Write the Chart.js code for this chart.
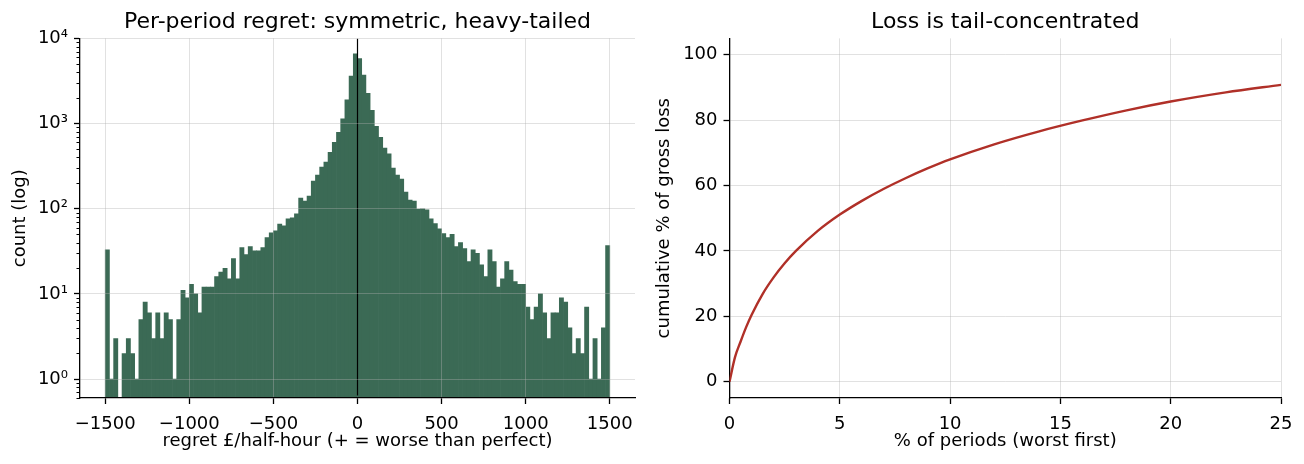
<!DOCTYPE html>
<html>
<head>
  <meta charset="utf-8">
  <title>Per-period regret</title>
  <style>
    body { margin: 0; background: #fff; }
    #wrap { display: flex; width: 1304px; height: 464px; }
    canvas { display: block; }
  </style>
</head>
<body>
<div id="wrap">
  <canvas id="hist" width="650" height="464"></canvas>
  <canvas id="cum" width="654" height="464"></canvas>
</div>
<script src="https://cdn.jsdelivr.net/npm/chart.js@4"></script>
<script>
// left panel: histogram, 120 bins of 25 starting at -1500
const binStart = -1500;
const binWidth = 25;
const counts = [
  33, 1, 3, 0, 2, 3, 2, 1, 5, 8,
  6, 3, 6, 3, 6, 5, 1, 5, 11, 9,
  13, 10, 6, 12, 12, 12, 16, 18, 20, 15,
  26, 15, 35, 29, 36, 32, 32, 35, 46, 52,
  55, 66, 63, 76, 78, 87, 133, 123, 141, 211,
  248, 308, 352, 461, 604, 791, 1140, 1900, 3600, 6600,
  5800, 3700, 2270, 1430, 930, 690, 515, 440, 300, 248,
  223, 157, 126, 123, 99, 100, 97, 76, 67, 58,
  51, 46, 50, 36, 40, 34, 24, 33, 30, 22,
  16, 33, 24, 12, 15, 24, 19, 14, 13, 13,
  7, 5, 7, 10, 6, 3, 6, 6, 9, 8,
  4, 2, 3, 2, 7, 1, 3, 1, 4, 37
];
const histXTicks = [-1500, -1000, -500, 0, 500, 1000, 1500];
const histYTicks = [1, 10, 100, 1000, 10000];

// right panel: cumulative share of gross loss
const pctPeriods = [0, 0.25, 0.5, 0.75, 1, 1.5, 2, 2.5, 3, 4, 5, 6, 7, 8, 9, 10, 12, 14, 16, 18, 20, 22.5, 25];
const cumLoss = [0, 7.5, 12.2, 16.6, 20.4, 26.8, 31.9, 36.2, 39.9, 46.1, 51.1, 55.3, 59.0, 62.3, 65.3, 68.0, 72.6, 76.5, 79.9, 83.0, 85.7, 88.5, 90.8];
const cumXTicks = [0, 5, 10, 15, 20, 25];
const cumYTicks = [0, 20, 40, 60, 80, 100];

Chart.defaults.font.family = "'DejaVu Sans', sans-serif";
Chart.defaults.color = '#000';

const gridColor = 'rgba(176,176,176,0.38)';
const sup = {'0': '\u2070', '1': '\u00b9', '2': '\u00b2', '3': '\u00b3', '4': '\u2074'};
const fmtNum = v => v < 0 ? '\u2212' + Math.abs(v) : String(v);

// short minor ticks on the log axis (2..9 x 10^k)
const minorTicks = {
  id: 'minorTicks',
  afterDraw(chart) {
    const y = chart.scales.y;
    const ctx = chart.ctx;
    const left = chart.chartArea.left;
    ctx.save();
    ctx.strokeStyle = '#000';
    ctx.lineWidth = 1;
    for (let k = -1; k < 4; k++) {
      for (let m = 2; m < 10; m++) {
        const v = m * Math.pow(10, k);
        if (v < y.min || v > y.max) continue;
        const py = Math.round(y.getPixelForValue(v)) + 0.5;
        ctx.beginPath();
        ctx.moveTo(left - 3.5, py);
        ctx.lineTo(left, py);
        ctx.stroke();
      }
    }
    ctx.restore();
  }
};

new Chart(document.getElementById('hist'), {
  type: 'bar',
  data: {
    datasets: [
      {
        type: 'line',
        data: [{x: 0, y: 0.64}, {x: 0, y: 10000}],
        borderColor: '#000',
        borderWidth: 1.2,
        pointRadius: 0,
        order: 0
      },
      {
        type: 'bar',
        data: counts.map((c, i) => ({x: binStart + (i + 0.5) * binWidth, y: c > 0 ? c : null})),
        backgroundColor: '#3b6a55',
        borderWidth: 0,
        barPercentage: 1,
        categoryPercentage: 1,
        grouped: false,
        order: 1
      }
    ]
  },
  options: {
    responsive: false,
    animation: false,
    layout: {padding: {left: 0, right: 15, top: 0, bottom: 0}},
    plugins: {
      legend: {display: false},
      tooltip: {enabled: false},
      title: {
        display: true,
        text: 'Per-period regret: symmetric, heavy-tailed',
        fullSize: false,
        color: '#000',
        font: {size: 22, weight: 'normal'},
        padding: {top: 9, bottom: 3}
      }
    },
    scales: {
      x: {
        type: 'linear',
        min: -1650,
        max: 1650,
        offset: false,
        afterBuildTicks: s => { s.ticks = histXTicks.map(v => ({value: v})); },
        afterFit: s => { s.height = 66; },
        ticks: {callback: v => fmtNum(v), font: {size: 18}, padding: 10, maxRotation: 0, autoSkip: false},
        grid: {
          offset: false,
          color: c => (c.tick && c.tick.value === 0) ? 'rgba(0,0,0,0)' : gridColor,
          tickColor: '#000',
          tickLength: 6,
          tickWidth: 1.3,
          z: 1
        },
        border: {color: '#000', width: 1.3, z: 2},
        title: {display: true, text: 'regret £/half-hour (+ = worse than perfect)', font: {size: 18}, padding: {top: 0, bottom: 12}}
      },
      y: {
        type: 'logarithmic',
        min: 0.64,
        max: 10000,
        beginAtZero: false,
        afterBuildTicks: s => { s.ticks = histYTicks.map(v => ({value: v, major: true})); },
        afterFit: s => { s.width = 80; },
        ticks: {
          callback: v => '10' + sup[String(Math.round(Math.log10(v)))],
          font: {size: 18},
          padding: 6,
          autoSkip: false
        },
        grid: {color: gridColor, tickColor: '#000', tickLength: 6, tickWidth: 1.3, z: 1},
        border: {color: '#000', width: 1.3, z: 2},
        title: {display: true, text: 'count (log)', font: {size: 18}, padding: {top: 10, bottom: 0}}
      }
    }
  },
  plugins: [minorTicks]
});

new Chart(document.getElementById('cum'), {
  type: 'line',
  data: {
    datasets: [{
      data: pctPeriods.map((x, i) => ({x: x, y: cumLoss[i]})),
      borderColor: '#b03028',
      borderWidth: 2.4,
      pointRadius: 0,
      fill: false,
      cubicInterpolationMode: 'monotone'
    }]
  },
  options: {
    responsive: false,
    animation: false,
    layout: {padding: {left: 0, right: 23, top: 0, bottom: 0}},
    plugins: {
      legend: {display: false},
      tooltip: {enabled: false},
      title: {
        display: true,
        text: 'Loss is tail-concentrated',
        fullSize: false,
        color: '#000',
        font: {size: 22, weight: 'normal'},
        padding: {top: 9, bottom: 3}
      }
    },
    scales: {
      x: {
        type: 'linear',
        min: 0,
        max: 25,
        afterBuildTicks: s => { s.ticks = cumXTicks.map(v => ({value: v})); },
        afterFit: s => { s.height = 66; },
        ticks: {font: {size: 18}, padding: 10, maxRotation: 0, autoSkip: false},
        grid: {color: gridColor, tickColor: '#000', tickLength: 6, tickWidth: 1.3},
        border: {color: '#000', width: 1.3},
        title: {display: true, text: '% of periods (worst first)', font: {size: 18}, padding: {top: 0, bottom: 12}}
      },
      y: {
        type: 'linear',
        min: -5,
        max: 105,
        afterBuildTicks: s => { s.ticks = cumYTicks.map(v => ({value: v})); },
        afterFit: s => { s.width = 79.5; },
        ticks: {font: {size: 18}, padding: 6, autoSkip: false},
        grid: {color: gridColor, tickColor: '#000', tickLength: 6, tickWidth: 1.3},
        border: {color: '#000', width: 1.3},
        title: {display: true, text: 'cumulative % of gross loss', font: {size: 18}, padding: {top: 4, bottom: 0}}
      }
    }
  }
});
</script>
</body>
</html>
